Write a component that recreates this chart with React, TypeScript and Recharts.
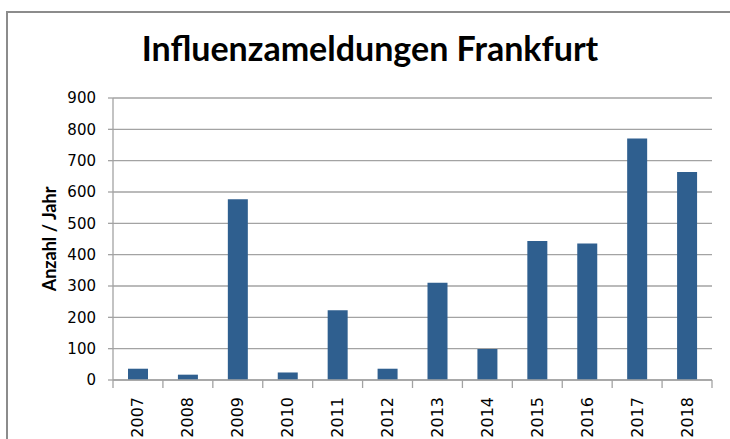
import { BarChart, Bar, XAxis, YAxis, CartesianGrid } from "recharts";

const years = ["2007", "2008", "2009", "2010", "2011", "2012", "2013", "2014", "2015", "2016", "2017", "2018"];
const meldungen = [36, 17, 577, 24, 223, 36, 310, 99, 444, 436, 771, 664];
const yTicks = [0, 100, 200, 300, 400, 500, 600, 700, 800, 900];

const data = years.map((year, i) => ({ year, value: meldungen[i] }));

const GRID = "#a3a3a3";

// category label plus tick marks on the category boundaries (Excel style)
const YearTick = (props: any) => {
  const { x, y, payload, index } = props;
  const half = payload.offset || 0;
  const ty = y + 17;
  return (
    <g>
      <line x1={x - half} x2={x - half} y1={y} y2={y + 8} stroke={GRID} strokeWidth={1.3} />
      {index === years.length - 1 && (
        <line x1={x + half} x2={x + half} y1={y} y2={y + 8} stroke={GRID} strokeWidth={1.3} />
      )}
      <text
        x={x}
        y={ty}
        transform={`rotate(-90, ${x}, ${ty})`}
        textAnchor="end"
        dominantBaseline="central"
        fontFamily="DejaVu Sans"
        fontSize={16}
        fill="#000"
      >
        {payload.value}
      </text>
    </g>
  );
};

export default function App() {
  return (
    <div style={{ position: "absolute", left: 0, top: 0, width: 730, height: 439, overflow: "hidden", background: "#fff" }}>
      <div
        style={{
          position: "absolute",
          left: 6,
          top: 11,
          width: 740,
          height: 460,
          borderTop: "2px solid #8c8c8c",
          borderLeft: "2px solid #8c8c8c",
        }}
      />
      <div
        style={{
          position: "absolute",
          left: 0,
          top: 27,
          width: 740,
          textAlign: "center",
          fontFamily: "Lato",
          fontWeight: 700,
          fontSize: 34,
          color: "#000",
        }}
      >
        Influenzameldungen Frankfurt
      </div>
      <div style={{ position: "absolute", left: 0, top: 0 }}>
        <BarChart width={730} height={439} data={data} margin={{ top: 98, right: 18, left: 53, bottom: 0 }}>
          <CartesianGrid vertical={false} stroke={GRID} strokeWidth={1.3} />
          <XAxis
            dataKey="year"
            height={59}
            axisLine={{ stroke: GRID, strokeWidth: 1.3 }}
            tickLine={false}
            tickSize={0}
            tickMargin={0}
            interval={0}
            tick={<YearTick />}
          />
          <YAxis
            width={60}
            domain={[0, 900]}
            ticks={yTicks}
            interval={0}
            axisLine={{ stroke: GRID, strokeWidth: 1.3 }}
            tickLine={{ stroke: GRID, strokeWidth: 1.3 }}
            tickSize={5}
            tickMargin={12}
            tick={{ fontFamily: "DejaVu Sans", fontSize: 15, fill: "#000" }}
            label={{
              value: "Anzahl / Jahr",
              angle: -90,
              position: "insideLeft",
              dx: -8,
              style: { fontFamily: "Lato", fontWeight: 700, fontSize: 18, fill: "#000", textAnchor: "middle" },
            }}
          />
          <Bar dataKey="value" fill="#2f5f8f" barSize={20} isAnimationActive={false} />
        </BarChart>
      </div>
    </div>
  );
}
